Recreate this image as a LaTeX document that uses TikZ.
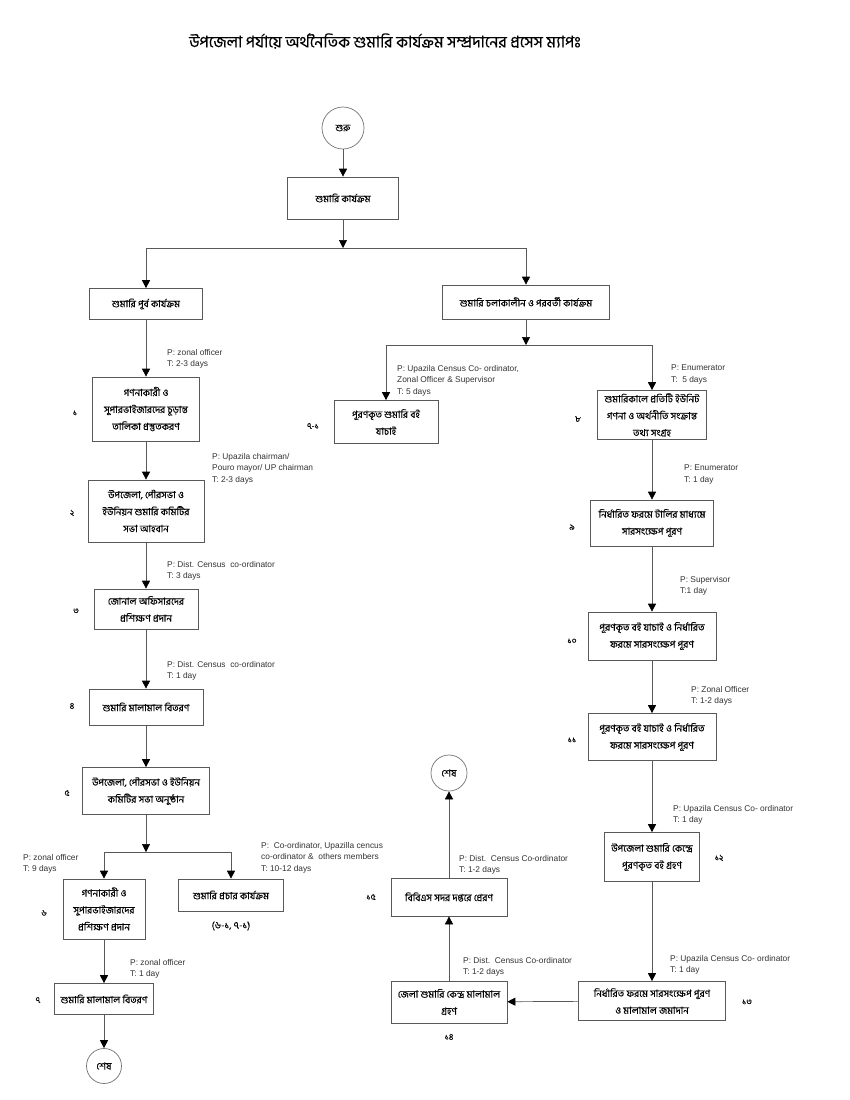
\documentclass[tikz,border=0pt]{standalone}
\usepackage{fontspec}
\setmainfont{Liberation Sans}
\newfontfamily\bnfont[Script=Bengali,FakeBold=0.3]{Hind Siliguri}
\usetikzlibrary{arrows.meta,positioning,calc}
\def\lineThickness{(0.7pt)}
\def\bScale{\fontsize{9.8}{17}\bnfont}
\def\nScale{\fontsize{8.5}{10}\bnfont}
\def\tScale{\fontsize{16}{18}\bnfont}
\def\pScale{\fontsize{8.4}{11.5}\selectfont}
\tikzset{box/.style={draw=black!65,line width=\lineThickness,fill=white,align=center,inner sep=1pt,font=\bScale}}
\tikzset{term/.style={draw=black!55,circle,line width=\lineThickness,fill=white,inner sep=0,font=\bScale}}
\tikzset{flow/.style={black!65,line width=\lineThickness,-{Triangle[length=8bp,width=8bp,fill=black,color=black]}}}
\tikzset{wire/.style={black!65,line width=\lineThickness}}
\tikzset{pt/.style={anchor=north west,align=left,font=\pScale,text=black!80,inner sep=0}}
\tikzset{num/.style={font=\nScale,inner sep=0}}
\newcommand{\procBox}[5]{\node[box,minimum width=#3,minimum height=#4] (#1) at (#2) {#5};}
\newcommand{\pLabel}[2]{\node[pt] at (#1) {#2};}

\begin{document}
\begin{tikzpicture}[x=1bp,y=-1bp]\useasboundingbox (0,0) rectangle (850,1100);\fill[white] (0,0) rectangle (850,1100);
\node[font=\tScale] (title) at (385,41) {উপজেলা পর্যায়ে অর্থনৈতিক শুমারি কার্যক্রম সম্প্রদানের প্রসেস ম্যাপঃ};
\node[term,minimum size=42bp] (start) at (343,128) {শুরু};
\procBox{A}{343,198}{111bp}{42bp}{শুমারি কার্যক্রম}
\coordinate (sM) at (343,248);\coordinate (sL) at (146,248);\coordinate (sR) at (526,248);
\procBox{B}{146,304}{113bp}{31bp}{শুমারি পূর্ব কার্যক্রম}
\procBox{C}{526,302}{167bp}{34bp}{শুমারি চলাকালীন ও পরবর্তী কার্যক্রম}
% left column
\procBox{b1}{146,409}{107bp}{64bp}{গণনাকারী ও\\সুপারভাইজারদের চূড়ান্ত\\তালিকা প্রস্তুতকরণ}
\procBox{b2}{146,511}{116bp}{62bp}{উপজেলা, পৌরসভা ও\\ইউনিয়ন শুমারি কমিটির\\সভা আহবান}
\procBox{b3}{146,609}{104bp}{40bp}{জোনাল অফিসারদের\\প্রশিক্ষণ প্রদান}
\procBox{b4}{146,707}{114bp}{36bp}{শুমারি মালামাল বিতরণ}
\procBox{b5}{146,791}{127bp}{47bp}{উপজেলা, পৌরসভা ও ইউনিয়ন\\কমিটির সভা অনুষ্ঠান}
\coordinate (tM) at (146,852);\coordinate (tL) at (104,852);\coordinate (tR) at (231,852);
\procBox{b6}{104,909}{82bp}{60bp}{গণনাকারী ও\\সুপারভাইজারদের\\প্রশিক্ষণ প্রদান}
\procBox{bp}{231,895}{105bp}{32bp}{শুমারি প্রচার কার্যক্রম}
\procBox{b7}{104,999}{99bp}{31bp}{শুমারি মালামাল বিতরণ}
\node[term,minimum size=35bp] (end1) at (104,1066) {শেষ};
% right column
\coordinate (uM) at (526,345);\coordinate (uL) at (386,345);\coordinate (uR) at (652,345);
\procBox{b71}{386,422}{104bp}{43bp}{পূরণকৃত শুমারি বই\\যাচাই}
\procBox{b8}{652,415}{109bp}{49bp}{শুমারিকালে প্রতিটি ইউনিট\\গণনা ও অর্থনীতি সংক্রান্ত\\তথ্য সংগ্রহ}
\procBox{b9}{652,523}{123bp}{46bp}{নির্ধারিত ফরমে টালির মাধ্যমে\\সারসংক্ষেপ পূরণ}
\procBox{b10}{652,636}{128bp}{48bp}{পূরণকৃত বই যাচাই ও নির্ধারিত\\ফরমে  সারসংক্ষেপ পূরণ}
\procBox{b11}{652,737}{128bp}{47bp}{পূরণকৃত বই যাচাই ও নির্ধারিত\\ফরমে  সারসংক্ষেপ পূরণ}
\procBox{b12}{652,857}{95bp}{49bp}{উপজেলা শুমারি কেন্দ্রে\\পূরণকৃত বই গ্রহণ}
\procBox{b13}{652,1001}{147bp}{39bp}{নির্ধারিত ফরমে  সারসংক্ষেপ পূরণ\\ও মালামাল জমাদান}
\procBox{b14}{449,1002}{116bp}{42bp}{জেলা শুমারি কেন্দ্র মালামাল\\গ্রহণ}
\procBox{b15}{449,897}{116bp}{38bp}{বিবিএস সদর দপ্তরে প্রেরণ}
\node[term,minimum size=36bp] (end2) at (449,773) {শেষ};
% connectors
\draw[flow] (start)--(A);\draw[flow] (A)--(sM);\draw[wire] (sL)--(sR);\draw[flow] (sL)--(B);\draw[flow] (sR)--(C);
\foreach\a/\b in {B/b1,b1/b2,b2/b3,b3/b4,b4/b5,b6/b7,b7/end1,b8/b9,b9/b10,b10/b11,b11/b12,b12/b13,b13/b14,b14/b15,b15/end2}{\draw[flow] (\a)--(\b);};
\draw[flow] (b5)--(tM);\draw[wire] (tL)--(tR);\draw[flow] (tL)--(b6);\draw[flow] (tR)--(bp);
\draw[flow] (C)--(uM);\draw[wire] (uL)--(uR);\draw[flow] (uL)--(b71);\draw[flow] (uR)--(b8);
% P / T notes
\pLabel{167,349}{P: zonal officer\\T: 2-3 days}
\pLabel{212,453}{P: Upazila chairman/\\Pouro mayor/ UP chairman\\T: 2-3 days}
\pLabel{167,561}{P: Dist. Census\ \ co-ordinator\\T: 3 days}
\pLabel{167,661}{P: Dist. Census\ \ co-ordinator\\T: 1 day}
\pLabel{23,854}{P: zonal officer\\T: 9 days}
\pLabel{261,842}{P:\ \ Co-ordinator, Upazilla cencus\\co-ordinator \&\ \ others members\\T: 10-12 days}
\pLabel{130,959}{P: zonal officer\\T: 1 day}
\pLabel{397,365}{P: Upazila Census Co- ordinator,\\Zonal Officer \& Supervisor\\T: 5 days}
\pLabel{671,365}{P: Enumerator\\T:\ \ 5 days}
\pLabel{684,465}{P: Enumerator\\T: 1 day}
\pLabel{680,576}{P: Supervisor\\T:1 day}
\pLabel{691,686}{P: Zonal Officer\\T: 1-2 days}
\pLabel{673,805}{P: Upazila Census Co- ordinator\\T: 1 day}
\pLabel{670,955}{P: Upazila Census Co- ordinator\\T: 1 day}
\pLabel{459,855}{P: Dist.\ \ Census Co-ordinator\\T: 1-2 days}
\pLabel{463,957}{P: Dist.\ \ Census Co-ordinator\\T: 1-2 days}
% step numbers
\foreach\n/\p in {১/{75,413},২/{72,513},৩/{76,611},৪/{72,706},৫/{67,793},৬/{44,913},৭/{38,1000},৭-১/{313,426},৮/{578,419},৯/{572,527},১০/{572,641},১১/{572,740},১২/{719,858},১৩/{747,1002},১৪/{449,1037},১৫/{371,897}}{\node[num] at (\p) {\n};};
\node[font=\bScale,inner sep=0] (cross) at (231,926) {(৬-১, ৭-১)};
\end{tikzpicture}
\end{document}
